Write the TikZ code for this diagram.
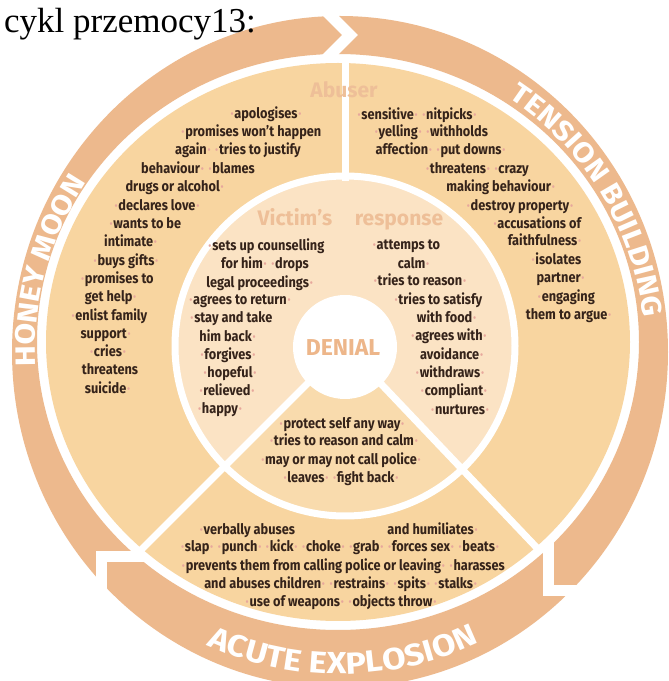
\documentclass[tikz,border=0pt]{standalone}
\usepackage{fontspec}
\usetikzlibrary{decorations.text}
\setmainfont{Liberation Serif}
\newfontfamily\bodyf{Fira Sans}[FakeStretch=0.88]
\newfontfamily\labf{Fira Sans}
\newfontfamily\ringf{Fira Sans}[FakeStretch=1.12]
\definecolor{ringc}{HTML}{EDB98D}
\definecolor{sectc}{HTML}{F8D5A0}
\definecolor{victc}{HTML}{FBE3C4}
\definecolor{wedgec}{HTML}{F9DBAD}
\definecolor{labc}{HTML}{EEBF98}
\definecolor{denc}{HTML}{EDB68A}
\definecolor{textc}{HTML}{35231A}
\definecolor{dotc}{HTML}{E7A79C}
\newcommand\dt{\textcolor{dotc}{\kern0.8pt·\kern0.8pt}}
\tikzset{
  tx/.style={anchor=mid, inner sep=0pt, text=textc, font=\bodyf\bfseries\fontsize{14.5}{16}\selectfont},
  lab/.style={anchor=base, inner sep=0pt, text=labc, font=\labf\bfseries\fontsize{21}{21}\selectfont},
  divider/.style={white, line width=7pt},
  gapline/.style={white, line width=11pt},
}
\begin{document}
\begin{tikzpicture}[x=1pt,y=1pt]
\useasboundingbox (0,0) rectangle (669,681);
\fill[white] (0,0) rectangle (669,681);
% outer ring
\fill[ringc, even odd rule] (340,329) ellipse[x radius=328, y radius=336] (338,339) ellipse[x radius=301, y radius=288];
% arrow breaks
\draw[gapline] (318,678) -- (350,646) -- (318,614);
\draw[gapline] (548,150) -- (548,90) -- (610,90);
\draw[gapline] (160,124) -- (101,124) -- (101,60);
% sector disc
\fill[sectc] (338,339) ellipse[x radius=292, y radius=279];
% inner circle
\fill[victc] (345,335) circle[radius=170];
\fill[wedgec] (345,335) -- ++(-135:170) arc[start angle=-135, end angle=-46.5, radius=170] -- cycle;
\draw[divider] (345,335) circle[radius=170];
\draw[divider] (345,500) -- (345,621);
\draw[divider] (345,335) -- (140,130);
\draw[divider] (345,335) -- (538,132);
\fill[white] (345,334) circle[radius=52];
\node[anchor=base, inner sep=0pt, text=denc, font=\labf\bfseries\fontsize{23}{23}\selectfont] (denial) at (343,325) {DENIAL};
% labels
\node[lab] (abuser) at (344,583) {Abuser};
\node[lab] (victims) at (295,455) {Victim’s};
\node[lab] (response) at (399,455) {response};
% ring texts
\path[decorate, decoration={text along path, text align=center, text={|\ringf\bfseries\fontsize{28}{28}\selectfont\color{white}|HONEY MOON}}]
  ([shift={(340,329)}]199:305) arc[start angle=199, end angle=130, radius=305];
\path[decorate, decoration={text along path, text align=center, text={|\ringf\bfseries\fontsize{28}{28}\selectfont\color{white}|TENSION BUILDING}}]
  ([shift={(340,329)}]72:305) arc[start angle=72, end angle=-9, radius=305];
\path[decorate, decoration={text along path, text align=center, text={|\ringf\bfseries\fontsize{30.5}{30.5}\selectfont\color{white}|ACUTE EXPLOSION}}]
  ([shift={(340,329)}]-133:322) arc[start angle=-133, end angle=-46, radius=322];
% Honey moon / abuser left
\node[tx] (a1) at (266,565) {\dt apologises\dt};
\node[tx] (a2) at (251,547) {\dt promises won’t happen};
\node[tx] (a3) at (238,529) {again\dt\ \dt tries to justify};
\node[tx] (a4) at (198,510) {behaviour\dt\ \dt blames};
\node[tx] (a5) at (175,492) {drugs or alcohol\dt};
\node[tx] (a6) at (157,473) {\dt declares love\dt};
\node[tx] (a7) at (145,455) {\dt wants to be};
\node[tx] (a8) at (131,437) {intimate\dt};
\node[tx] (a9) at (126,418) {\dt buys gifts\dt};
\node[tx] (a10) at (117,400) {\dt promises to};
\node[tx] (a11) at (111,382) {get help\dt};
\node[tx] (a12) at (109,363) {\dt enlist family};
\node[tx] (a13) at (106,345) {support\dt};
\node[tx] (a14) at (108,327) {\dt cries\dt};
\node[tx] (a15) at (110,309) {threatens};
\node[tx] (a16) at (108,290) {suicide\dt};
% victim left
\node[tx] (v1) at (266,433) {\dt sets up counselling};
\node[tx] (v2) at (265,415) {for him\dt\ \dt drops};
\node[tx] (v3) at (260,396) {legal proceedings\dt};
\node[tx] (v4) at (240,379) {\dt agrees to return\dt};
\node[tx] (v5) at (231,361) {\dt stay and take};
\node[tx] (v6) at (228,342) {him back\dt};
\node[tx] (v7) at (228,324) {\dt forgives\dt};
\node[tx] (v8) at (230,306) {\dt hopeful\dt};
\node[tx] (v9) at (227,288) {\dt relieved\dt};
\node[tx] (v10) at (220,270) {\dt happy\dt};
% tension building / abuser right
\node[tx] (b1) at (417,564) {\dt sensitive\dt\ \dt nitpicks\dt};
\node[tx] (b2) at (431,547) {\dt yelling\dt\ \dt withholds};
\node[tx] (b3) at (441,529) {affection\dt\ \dt put downs\dt};
\node[tx] (b4) at (477,510) {\dt threatens\dt\ \dt crazy};
\node[tx] (b5) at (501,492) {making behaviour\dt};
\node[tx] (b6) at (520,473) {\dt destroy property\dt};
\node[tx] (b7) at (537,455) {\dt accusations of};
\node[tx] (b8) at (545,438) {faithfulness\dt};
\node[tx] (b9) at (556,419) {\dt isolates};
\node[tx] (b10) at (561,401) {partner\dt};
\node[tx] (b11) at (566,382) {\dt engaging};
\node[tx] (b12) at (569,364) {them to argue\dt};
% victim right
\node[tx] (r1) at (406,434) {\dt attemps to};
\node[tx] (r2) at (414,415) {calm\dt};
\node[tx] (r3) at (420,398) {\dt tries to reason\dt};
\node[tx] (r4) at (438,379) {\dt tries to satisfy};
\node[tx] (r5) at (447,361) {with food\dt};
\node[tx] (r6) at (449,343) {\dt agrees with\dt};
\node[tx] (r7) at (452,324) {avoidance\dt};
\node[tx] (r8) at (450,306) {\dt withdraws\dt};
\node[tx] (r9) at (454,288) {\dt compliant\dt};
\node[tx] (r10) at (460,269) {\dt nurtures\dt};
% wedge
\node[tx] (w1) at (342,255) {\dt protect self any way\dt};
\node[tx] (w2) at (344,238) {\dt tries to reason and calm\dt};
\node[tx] (w3) at (341,219) {\dt may or may not call police\dt};
\node[tx] (w4) at (341,201) {\dt leaves\dt\ \dt fight back\dt};
% acute explosion
\node[tx] (e1a) at (247,149) {\dt verbally abuses};
\node[tx] (e1b) at (433,149) {and humiliates\dt};
\node[tx] (e2) at (340,132) {\dt slap\dt\ \dt punch\dt\ \dt kick\dt\ \dt choke\dt\ \dt grab\dt\ \dt forces sex\dt\ \dt beats\dt};
\node[tx] (e3) at (343,113) {\dt prevents them from calling police or leaving\dt\ \dt harasses};
\node[tx] (e4) at (341,95) {and abuses children\dt\ \dt restrains\dt\ \dt spits\dt\ \dt stalks\dt};
\node[tx] (e5) at (341,77) {\dt use of weapons\dt\ \dt objects throw\dt};
% title
\node[anchor=base west, inner sep=0pt, font=\fontsize{35}{35}\selectfont] (title) at (4,648) {cykl przemocy13:};
\end{tikzpicture}
\end{document}
